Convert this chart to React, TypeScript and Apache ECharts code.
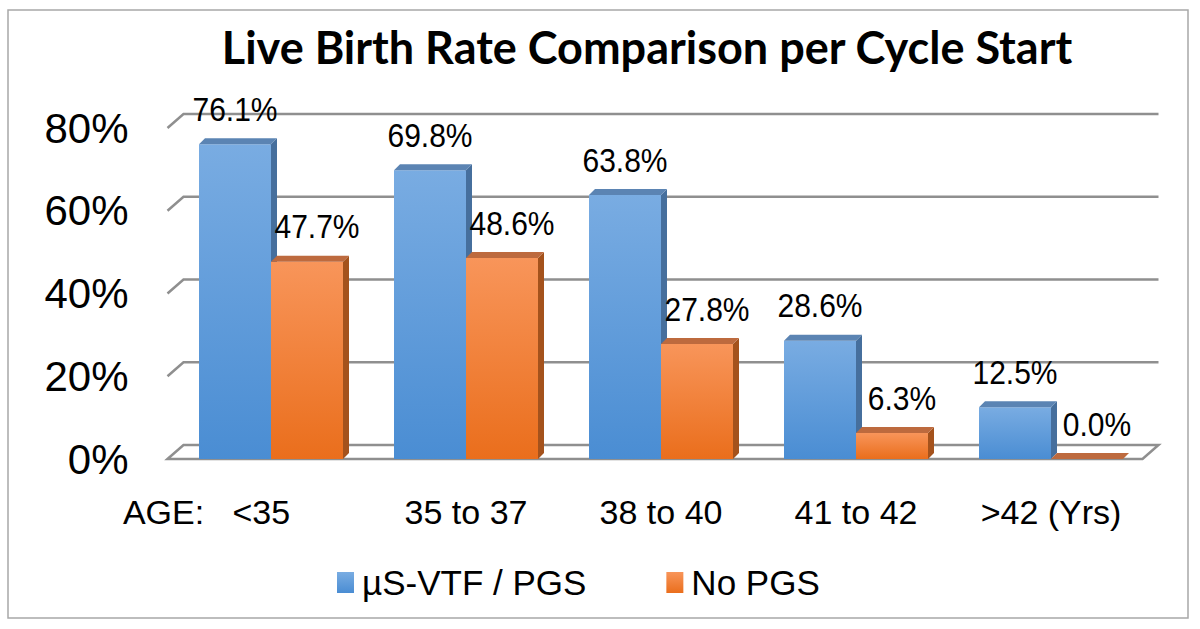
import React, { useEffect, useRef } from "react";
import * as echarts from "echarts";

const categories = ["AGE:   <35", "35 to 37", "38 to 40", "41 to 42", ">42 (Yrs)"];
const pgsValues = [76.1, 69.8, 63.8, 28.6, 12.5];
const noPgsValues = [47.7, 48.6, 27.8, 6.3, 0.0];
const seriesNames = ["µS-VTF / PGS", "No PGS"];
const yTicks = [0, 20, 40, 60, 80];
const titleText = "Live Birth Rate Comparison per Cycle Start";

const BAR_FRAC = 72 / 195;
const DX = 6;
const DY = -6;
const WALL_DX = 16;
const WALL_DY = -14;
const FLOOR_SHIFT = -6;
const GRID_COLOR = "#8f8f8f";
const ARIAL = "'Liberation Sans', Arial, sans-serif";

const blueFront = () =>
  new echarts.graphic.LinearGradient(0, 0, 0, 1, [
    { offset: 0, color: "#79ace2" },
    { offset: 1, color: "#4a8dd3" },
  ]);
const orangeFront = () =>
  new echarts.graphic.LinearGradient(0, 0, 0, 1, [
    { offset: 0, color: "#f8955a" },
    { offset: 1, color: "#ea6e1c" },
  ]);

const palettes = [
  { front: blueFront, top: "#5b84b3", side: "#466f9d", labelShift: 0 },
  { front: orangeFront, top: "#bd6a3e", side: "#a4521c", labelShift: 10 },
];

function makeBarRenderer(side: number) {
  const pal = palettes[side];
  return (params: any, api: any) => {
    const idx = api.value(0);
    const val = api.value(1);
    const base = api.coord([idx, 0]);
    const top = api.coord([idx, val]);
    const band = api.size([1, 0])[0];
    const w = band * BAR_FRAC;
    const x0 = side === 0 ? base[0] - w : base[0];
    const x1 = x0 + w;
    const yb = base[1];
    const yt = top[1];
    return {
      type: "group",
      children: [
        {
          type: "rect",
          shape: { x: x0, y: yt, width: w, height: yb - yt },
          style: { fill: pal.front() },
        },
        {
          type: "polygon",
          shape: {
            points: [
              [x1, yt],
              [x1 + DX, yt + DY],
              [x1 + DX, yb + DY],
              [x1, yb],
            ],
          },
          style: { fill: pal.side },
        },
        {
          type: "polygon",
          shape: {
            points: [
              [x0, yt],
              [x0 + DX, yt + DY],
              [x1 + DX, yt + DY],
              [x1, yt],
            ],
          },
          style: { fill: pal.top },
        },
        {
          type: "text",
          x: (x0 + x1) / 2 + pal.labelShift,
          y: yt - 35,
          scaleY: 1.13,
          style: {
            text: val.toFixed(1) + "%",
            x: 0,
            y: 0,
            align: "center",
            verticalAlign: "middle",
            fontSize: 30,
            fontFamily: ARIAL,
            fill: "#000",
          },
        },
      ],
    };
  };
}

function renderWall(params: any, api: any) {
  const cs = params.coordSys;
  const left = cs.x + FLOOR_SHIFT;
  const right = cs.x + cs.width + FLOOR_SHIFT;
  const children: any[] = [];
  yTicks.forEach((t) => {
    const y = api.coord([0, t])[1];
    if (t === 0) {
      children.push({
        type: "polygon",
        shape: {
          points: [
            [left, y],
            [left + WALL_DX, y + WALL_DY],
            [right + WALL_DX, y + WALL_DY],
            [right, y],
          ],
        },
        style: { fill: "#ffffff", stroke: GRID_COLOR, lineWidth: 2.5 },
      });
    } else {
      children.push({
        type: "polyline",
        shape: {
          points: [
            [left, y],
            [left + WALL_DX, y + WALL_DY],
            [right + WALL_DX, y + WALL_DY],
          ],
        },
        style: { fill: "none", stroke: GRID_COLOR, lineWidth: 2.5 },
      });
    }
  });
  return { type: "group", children };
}

export default function App() {
  const ref = useRef<HTMLDivElement>(null);
  useEffect(() => {
    if (!ref.current) return;
    const chart = echarts.init(ref.current, undefined, { renderer: "svg" });
    chart.setOption({
      animation: false,
      backgroundColor: "#ffffff",
      graphic: [
        {
          type: "rect",
          shape: { x: 8, y: 10, width: 1180, height: 608 },
          style: { fill: "none", stroke: "#a8a8a8", lineWidth: 1.5 },
          silent: true,
        },
        {
          type: "text",
          x: 647,
          y: 47,
          style: {
            text: titleText,
            align: "center",
            verticalAlign: "middle",
            fontSize: 45,
            fontWeight: "bold",
            fontFamily: "Lato, 'Open Sans', sans-serif",
            fill: "#000",
          },
        },
      ],
      grid: { left: 173.5, right: 51.5, top: 128, bottom: 170 },
      legend: {
        left: 332,
        top: 560,
        icon: "rect",
        itemWidth: 17,
        itemHeight: 21,
        itemGap: 80,
        textStyle: { fontSize: 35, fontFamily: ARIAL, color: "#000", padding: [0, 0, 0, 3] },
        data: [
          { name: seriesNames[0], itemStyle: { color: blueFront() } },
          { name: seriesNames[1], itemStyle: { color: orangeFront() } },
        ],
      },
      xAxis: {
        type: "category",
        data: categories,
        axisLine: { show: false },
        axisTick: { show: false },
        axisLabel: {
          interval: 0,
          fontSize: 34,
          fontFamily: ARIAL,
          color: "#000",
          margin: 36,
          formatter: (v: string, i: number) =>
            i === 0 ? `{a|${v.replace(/ /g, "\u00a0")}}` : v,
          rich: {
            a: { fontSize: 34, fontFamily: ARIAL, color: "#000", padding: [0, 129, 0, 0] },
          },
        },
      },
      yAxis: {
        type: "value",
        min: 0,
        max: 80,
        interval: 20,
        axisLine: { show: false },
        axisTick: { show: false },
        splitLine: { show: false },
        axisLabel: {
          formatter: "{value}%",
          fontSize: 42,
          fontFamily: ARIAL,
          color: "#000",
          margin: 45,
        },
      },
      series: [
        {
          type: "custom",
          name: "wall",
          clip: false,
          silent: true,
          z: 1,
          renderItem: renderWall,
          data: [[0, 0]],
          encode: { x: 0, y: 1 },
        },
        {
          type: "custom",
          name: seriesNames[0],
          clip: false,
          z: 2,
          itemStyle: { color: blueFront() },
          renderItem: makeBarRenderer(0),
          data: pgsValues.map((v, i) => [i, v]),
          encode: { x: 0, y: 1 },
        },
        {
          type: "custom",
          name: seriesNames[1],
          clip: false,
          z: 3,
          itemStyle: { color: orangeFront() },
          renderItem: makeBarRenderer(1),
          data: noPgsValues.map((v, i) => [i, v]),
          encode: { x: 0, y: 1 },
        },
      ],
    });
    return () => chart.dispose();
  }, []);
  return (
    <div
      ref={ref}
      style={{ position: "absolute", left: 0, top: 0, width: 1200, height: 629 }}
    />
  );
}
